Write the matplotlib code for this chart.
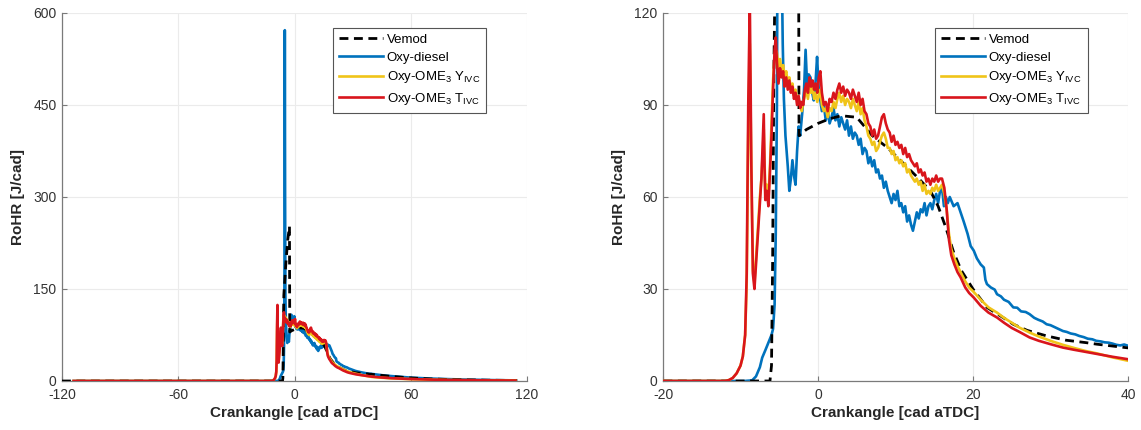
import matplotlib
matplotlib.use("Agg")
import matplotlib.pyplot as plt

plt.rcParams['font.family'] = ['Liberation Sans', 'DejaVu Sans']
plt.rcParams['axes.unicode_minus'] = False
plt.rcParams['mathtext.fontset'] = 'custom'
plt.rcParams['mathtext.rm'] = 'Liberation Sans'
plt.rcParams['mathtext.it'] = 'Liberation Sans'

# ---------------- data (crank angle [cad aTDC], RoHR [J/cad]) ----------------
vemod_x = [-120, -6.2, -6.0, -5.85, -5.7, -5.5, -4.5, -3.5, -2.6, -2.45, -1.5, 0, 1.5, 3, 5, 7, 9,
           11, 13, 14.5, 15.5, 16.5, 17.5, 18.5, 20, 21.8, 24, 25.2, 27, 29.5, 32, 34.6, 36, 38, 40,
           50, 60, 70, 80, 90, 100, 110, 115]
vemod_y = [0, 0, 5, 40, 100, 140, 190, 230, 252, 80, 82, 84, 85.5, 86.5, 86, 80, 76,
           71, 66, 62, 57, 50, 42, 36, 30, 24, 20.5, 18.5, 16.5, 14.7, 13.3, 12.5, 12, 11.4, 10.8,
           7.5, 5, 3.4, 2.4, 1.8, 1.3, 1, 0.9]

diesel_x = [-114, -9.5, -8.5, -8, -7.5, -7.2, -6.8, -6.4, -6.0, -5.8, -5.6, -5.45, -5.3, -5.15, -5.0,
            -4.85, -4.7, -4.55, -4.4, -4.2, -3.9, -3.7, -3.5, -3.3, -3.1, -2.9, -2.7, -2.5, -2.3,
            -2.05, -1.8, -1.6, -1.4, -1.2, -0.97, -0.75, -0.55, -0.3, -0.12, 0.1, 0.3, 0.5, 0.73,
            1.0, 1.25, 1.5, 1.75, 2.0, 2.25, 2.5, 2.75, 3.0, 3.25, 3.5, 3.75, 4.0, 4.25, 4.5, 4.75,
            5.0, 5.25, 5.5, 5.75, 6.0, 6.25, 6.5, 6.75, 7.0, 7.25, 7.5, 7.75, 8.0, 8.25, 8.5, 8.75,
            9.0, 9.25, 9.5, 9.75, 10.0, 10.25, 10.5, 10.75, 11.0, 11.25, 11.5, 11.75, 12.0, 12.25,
            12.5, 12.75, 13.0, 13.25, 13.5, 13.75, 14.0, 14.25, 14.5, 14.75, 15.0, 15.25, 15.5,
            15.75, 16.0, 16.25, 16.5, 16.75, 17.0, 17.5, 18.0, 18.4, 18.8, 19.3, 19.7, 20.1, 20.5,
            21.0, 21.4, 21.6, 21.8, 22.3, 22.8, 23.1, 23.6, 24.0, 24.6, 25.2, 25.7, 26.2, 26.8,
            27.3, 27.9, 28.4, 29.0, 29.5, 30.0, 30.5, 31.1, 31.6, 32.1, 32.6, 33.2, 33.7, 34.3,
            34.8, 35.4, 35.9, 36.5, 37.0, 37.5, 38.0, 38.5, 39.0, 39.5, 40.0,
            45, 50, 60, 70, 80, 90, 100, 110, 114]
diesel_y = [0, 0, 0.2, 1.5, 4.5, 7.6, 10, 12.5, 15, 17, 25, 48, 90, 200, 572,
            300, 140, 110, 92, 80, 70, 62, 66, 72, 67, 64, 75, 83, 80,
            87, 95, 108, 96, 100, 99, 94, 91.5, 98, 105.7, 95, 91.5, 88, 90.5,
            85, 88, 84, 86, 89, 85, 87, 83, 86, 84, 82, 85, 80, 83, 79, 81,
            80, 77, 79, 74, 76, 75, 71, 73, 70, 72, 68, 69, 66, 67, 63, 65,
            62, 60, 58, 61, 59, 62, 57, 58, 55, 57, 52, 54, 51, 49,
            52, 55, 53, 56, 55, 58, 54, 57, 58, 56, 59, 61, 58,
            62, 63, 57, 60, 58, 60, 57, 58, 55, 52, 48, 44, 42.5, 40,
            38, 37, 33, 31.6, 30.5, 29.8, 28.3, 27.6, 26.5, 25.8, 24, 23.9, 22.7, 22.5,
            21.8, 20.6, 20, 19.4, 18.5, 18.2, 17.6, 16.9, 16.3, 16.0, 15.5, 15.2, 14.7, 14.3,
            13.8, 13.6, 13.1, 12.9, 12.6, 12.5, 12.2, 11.8, 11.6, 11.9, 11.5,
            9.5, 8, 5.5, 4, 3, 2.2, 1.6, 1.2, 1.0]

ome_x = [-114, -12, -11.5, -11, -10.5, -10, -9.7, -9.4, -9.2, -9.0, -8.8, -8.6, -8.4, -8.2, -8.0,
         -7.7, -7.5, -7.3, -7.1, -7.0, -6.9, -6.8, -6.6, -6.4, -6.2, -6.0, -5.8, -5.6, -5.45,
         -5.3, -5.1, -4.9, -4.7, -4.5, -4.3, -4.1, -3.9, -3.7, -3.5, -3.3, -3.1, -2.9, -2.7,
         -2.5, -2.3, -2.1, -1.9, -1.7, -1.5, -1.3, -1.1, -0.9, -0.7, -0.5, -0.3, -0.1, 0.1, 0.3,
         0.5, 0.75, 1.0, 1.25, 1.5, 1.75, 2.0, 2.25, 2.5, 2.75, 3.0, 3.25, 3.5, 3.75, 4.0, 4.25,
         4.5, 4.75, 5.0, 5.25, 5.5, 5.75, 6.0, 6.25, 6.5, 6.75, 7.0, 7.25, 7.5, 7.75, 8.0, 8.25,
         8.5, 8.75, 9.0, 9.25, 9.5, 9.75, 10.0, 10.25, 10.5, 10.75, 11.0, 11.25, 11.5, 11.75,
         12.0, 12.25, 12.5, 12.75, 13.0, 13.25, 13.5, 13.75, 14.0, 14.25, 14.5, 14.75, 15.0,
         15.25, 15.5, 15.75, 16.0,
         16.3, 16.6, 16.9, 17.2, 17.6, 18.0, 18.4, 19.0, 19.5, 20.1,
         21, 22, 23.1, 24, 25, 26, 27.3, 28.5, 30, 31.6, 33, 34.5, 36, 38, 40,
         45, 50, 60, 70, 80, 90, 100, 110, 114]
ome_y_yivc = [0, 0, 0.3, 1, 2.5, 5, 8, 15, 32, 80, 110, 68, 36, 32, 40,
              52, 60, 66, 76, 82, 72, 62, 64, 60, 70, 84, 98, 106, 108,
              107, 102, 105, 101, 103, 99, 101, 97, 99, 95, 97, 93, 95, 92,
              91, 90, 88, 91, 93, 95, 92, 96, 94, 96, 92, 94, 91, 93, 95,
              90, 88, 89, 86, 89, 88, 91, 89, 92, 94, 91, 93, 90, 92, 91, 89,
              92, 90, 88, 91, 87, 89, 85, 83, 80, 79, 77, 78, 75, 76, 78, 80,
              81, 79, 76, 76, 74, 75, 72, 73, 71, 72, 70, 71, 68, 69,
              67, 66, 65, 66, 64, 65, 62, 64, 61, 62, 61, 63, 62,
              64, 62, 63, 64,
              61, 56, 48, 43, 40, 37.5, 35.5, 32.5, 30.5, 29,
              26.5, 24, 22.3, 20.6, 19, 17.4, 15.8, 14.5, 13.1, 11.8, 10.8, 9.8, 9.0, 7.7, 6.6,
              5.3, 4.3, 3.0, 2.2, 1.6, 1.2, 0.95, 0.75, 0.65]
ome_y_tivc = [0, 0, 0.3, 1, 2.5, 5, 8, 15, 35, 90, 124, 70, 35, 30, 38,
              50, 58, 66, 80, 87, 70, 59, 62, 57, 68, 80, 95, 108, 112,
              104, 97, 102, 99, 101, 96, 99, 95, 98, 94, 96, 92, 94, 90,
              93, 89, 91, 90, 95, 97, 94, 99, 96, 98, 95, 97, 94, 99, 101,
              94, 90, 91, 88, 92, 91, 94, 92, 95, 97, 94, 96, 93, 95, 94, 92,
              95, 93, 91, 94, 90, 92, 88, 87, 84, 83, 80, 82, 79, 80, 83, 86,
              87, 84, 82, 81, 78, 80, 77, 78, 76, 77, 74, 76, 73, 74,
              72, 71, 70, 71, 68, 69, 67, 68, 65, 66, 64, 66, 65,
              67, 65, 66, 66,
              63, 56, 46, 41, 38, 35.5, 33.8, 30.5, 28.7, 27.2,
              24.5, 22.3, 20.7, 19, 17.3, 16, 14.2, 13.1, 12, 10.9, 10.2, 9.5, 8.8, 7.9, 7.1,
              5.7, 4.6, 3.2, 2.3, 1.7, 1.3, 1.0, 0.8, 0.7]

labels = ['Vemod', 'Oxy-diesel', r'Oxy-OME$_3$ Y$_{\mathrm{IVC}}$', r'Oxy-OME$_3$ T$_{\mathrm{IVC}}$']
colors = ['black', '#0072BD', '#F0C419', '#D9151C']

left_xlim, left_ylim = (-120, 120), (0, 600)
left_xticks, left_yticks = [-120, -60, 0, 60, 120], [0, 150, 300, 450, 600]
right_xlim, right_ylim = (-20, 40), (0, 120)
right_xticks, right_yticks = [-20, 0, 20, 40], [0, 30, 60, 90, 120]

assert len(vemod_x) == len(vemod_y)
assert len(diesel_x) == len(diesel_y)
assert len(ome_x) == len(ome_y_yivc) == len(ome_y_tivc)

fig = plt.figure(figsize=(11.41, 4.30), dpi=100)
W, H = 1141, 430
ax1 = fig.add_axes([62 / W, 49 / H, 465 / W, 368 / H])
ax2 = fig.add_axes([663 / W, 49 / H, 465 / W, 368 / H])


def draw(ax, xlim, ylim, xticks, yticks, legx):
    ax.plot(vemod_x, vemod_y, color=colors[0], lw=2.0, dashes=(3.2, 2.0), label=labels[0], zorder=3)
    ax.plot(diesel_x, diesel_y, color=colors[1], lw=1.9, label=labels[1], zorder=2)
    ax.plot(ome_x, ome_y_yivc, color=colors[2], lw=1.9, label=labels[2], zorder=4)
    ax.plot(ome_x, ome_y_tivc, color=colors[3], lw=1.9, label=labels[3], zorder=5)
    ax.set_xlim(*xlim)
    ax.set_ylim(*ylim)
    ax.set_xticks(xticks)
    ax.set_yticks(yticks)
    for s in ['top', 'right']:
        ax.spines[s].set_visible(False)
    for s in ['left', 'bottom']:
        ax.spines[s].set_color('#7a7a7a')
        ax.spines[s].set_linewidth(0.9)
    ax.grid(True, color='#ebebeb', lw=0.8, zorder=0)
    ax.set_axisbelow(True)
    ax.tick_params(direction='in', length=3.5, width=0.8, color='#7a7a7a',
                   labelsize=10, labelcolor='#333333')
    ax.tick_params(axis='x', pad=5)
    ax.tick_params(axis='y', pad=4)
    ax.set_xlabel('Crankangle [cad aTDC]', fontsize=11, fontweight='bold', color='#262626', labelpad=3)
    ax.set_ylabel('RoHR [J/cad]', fontsize=11, fontweight='bold', color='#262626', labelpad=6)
    leg = ax.legend(loc='upper left', bbox_to_anchor=(legx, 0.96), fontsize=9.5,
                    handlelength=3.3, handletextpad=0.3, borderpad=0.45, labelspacing=0.42,
                    frameon=True, fancybox=False, framealpha=1, edgecolor='#555555',
                    borderaxespad=0)
    leg.get_frame().set_linewidth(0.8)


draw(ax1, left_xlim, left_ylim, left_xticks, left_yticks, 0.583)
draw(ax2, right_xlim, right_ylim, right_xticks, right_yticks, 0.585)

fig.savefig('out.png', dpi=100, facecolor='white')
